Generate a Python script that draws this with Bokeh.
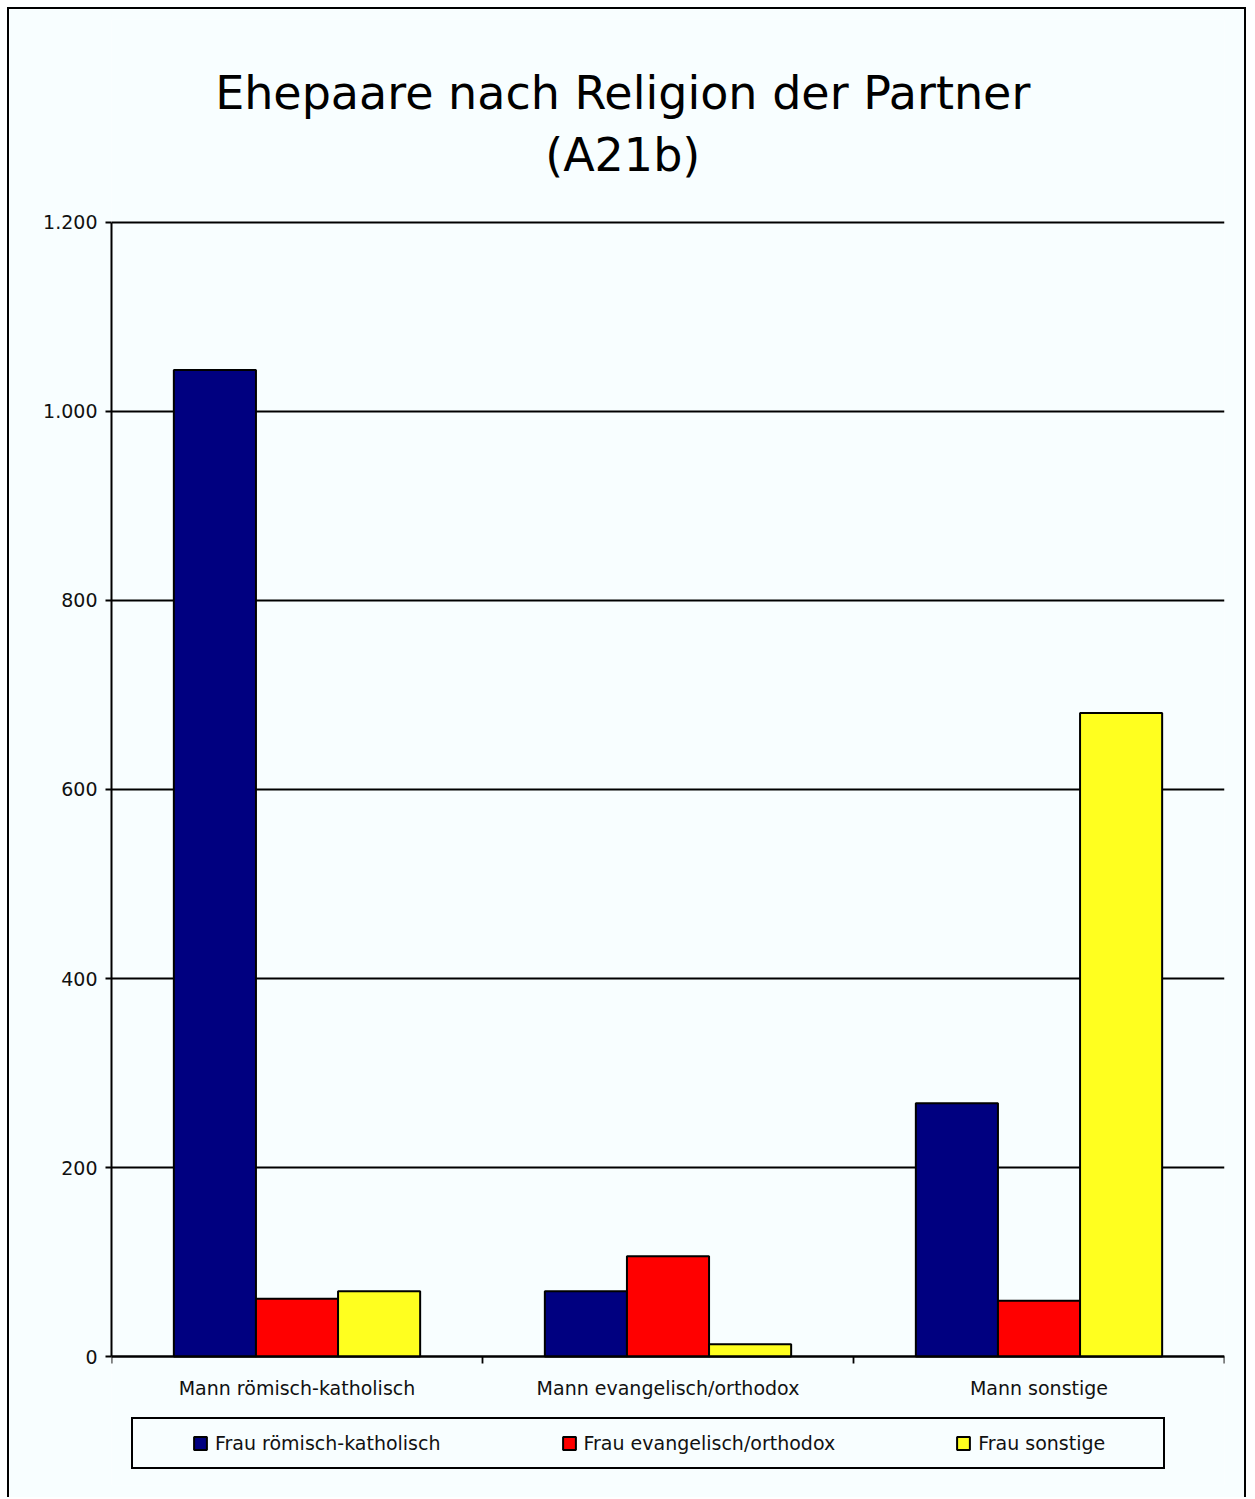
from bokeh.plotting import figure
from bokeh.models import Range1d, FixedTicker, Label, Legend, LegendItem, LinearAxis
from bokeh.embed import file_html
from bokeh.resources import INLINE

# ---- data ----
categories = ["Mann römisch-katholisch", "Mann evangelisch/orthodox", "Mann sonstige"]
series_names = ["Frau römisch-katholisch", "Frau evangelisch/orthodox", "Frau sonstige"]
frau_roemisch_katholisch = [1044, 69, 268]
frau_evangelisch_orthodox = [61, 106, 59]
frau_sonstige = [69, 13, 681]
y_ticks = [0, 200, 400, 600, 800, 1000, 1200]
y_tick_labels = ["0", "200", "400", "600", "800", "1.000", "1.200"]
title_line1 = "Ehepaare nach Religion der Partner"
title_line2 = "(A21b)"

# ---- style ----
colors = ["#000080", "#FF0000", "#FFFF1F"]
bg = "#F8FEFF"
font = "DejaVu Sans"
bar_w = 0.2213

# frame extends above and below the value range so title and legend sit inside it
p = figure(width=1239, height=1490, x_range=Range1d(0, 3), y_range=Range1d(-136.5, 1414.8),
           output_backend="svg", toolbar_location=None, title=None, x_axis_location=None,
           min_border_left=102, min_border_right=24, min_border_top=10, min_border_bottom=14,
           background_fill_color=bg, border_fill_color=bg, outline_line_color=None)
p.styles = {"border-left": "2px solid black", "border-top": "2px solid black",
            "border-right": "2px solid black", "margin-left": "7px", "margin-top": "7px"}

series = [frau_roemisch_katholisch, frau_evangelisch_orthodox, frau_sonstige]
offsets = [-bar_w, 0.0, bar_w]
renderers = []
for vals, off, col in zip(series, offsets, colors):
    xs = [i + 0.5 + off for i in range(len(categories))]
    r = p.vbar(x=xs, top=vals, bottom=0, width=bar_w, fill_color=col,
               line_color="black", line_width=2)
    renderers.append(r)

# grid
p.xgrid.grid_line_color = None
p.ygrid.grid_line_color = "black"
p.ygrid.grid_line_width = 1.8
p.ygrid.ticker = FixedTicker(ticks=y_ticks)

# y axis
ya = p.yaxis[0]
ya.ticker = FixedTicker(ticks=y_ticks)
ya.bounds = (0, 1200)
ya.major_label_overrides = {t: l for t, l in zip(y_ticks, y_tick_labels)}
ya.axis_line_color = "black"
ya.axis_line_width = 2
ya.major_tick_out = 6
ya.major_tick_in = 0
ya.major_tick_line_width = 1.8
ya.minor_tick_line_color = None
ya.major_label_standoff = 8
ya.major_label_text_font = font
ya.major_label_text_font_size = "19px"
ya.major_label_text_color = "#111111"

# x axis, drawn at y = 0
cat_pos = [i + 0.5 for i in range(len(categories))]
xa = LinearAxis(fixed_location=0)
xa.ticker = FixedTicker(ticks=cat_pos, minor_ticks=[float(i) for i in range(len(categories) + 1)])
xa.major_label_overrides = {c: l for c, l in zip(cat_pos, categories)}
xa.axis_line_color = "black"
xa.axis_line_width = 2
xa.major_tick_line_color = None
xa.major_tick_out = 0
xa.major_tick_in = 0
xa.minor_tick_out = 7
xa.minor_tick_in = 0
xa.minor_tick_line_color = "black"
xa.minor_tick_line_width = 1.8
xa.major_label_standoff = 13
xa.major_label_text_font = font
xa.major_label_text_font_size = "19px"
xa.major_label_text_color = "#111111"
p.add_layout(xa, "below")

# two-line title
for txt, ty in [(title_line1, 1336.5), (title_line2, 1271.0)]:
    p.add_layout(Label(x=1.378, y=ty, text=txt, text_align="center", text_baseline="alphabetic",
                       text_font=font, text_font_size="46px", text_color="black"))

legend = Legend(items=[LegendItem(label=n, renderers=[r]) for n, r in zip(series_names, renderers)],
                orientation="horizontal", location=(20, 16), margin=0,
                padding=13, spacing=120, glyph_width=16, glyph_height=16, label_standoff=7,
                label_width=172,
                label_text_font=font, label_text_font_size="19px", label_text_color="#111111",
                border_line_color="black", border_line_width=2, border_line_alpha=1,
                background_fill_color=bg, background_fill_alpha=1,
                title=" ", title_location="left", title_text_font_size="1px", title_standoff=45)
p.add_layout(legend, "center")

open("out.html", "w").write(file_html(p, INLINE))
